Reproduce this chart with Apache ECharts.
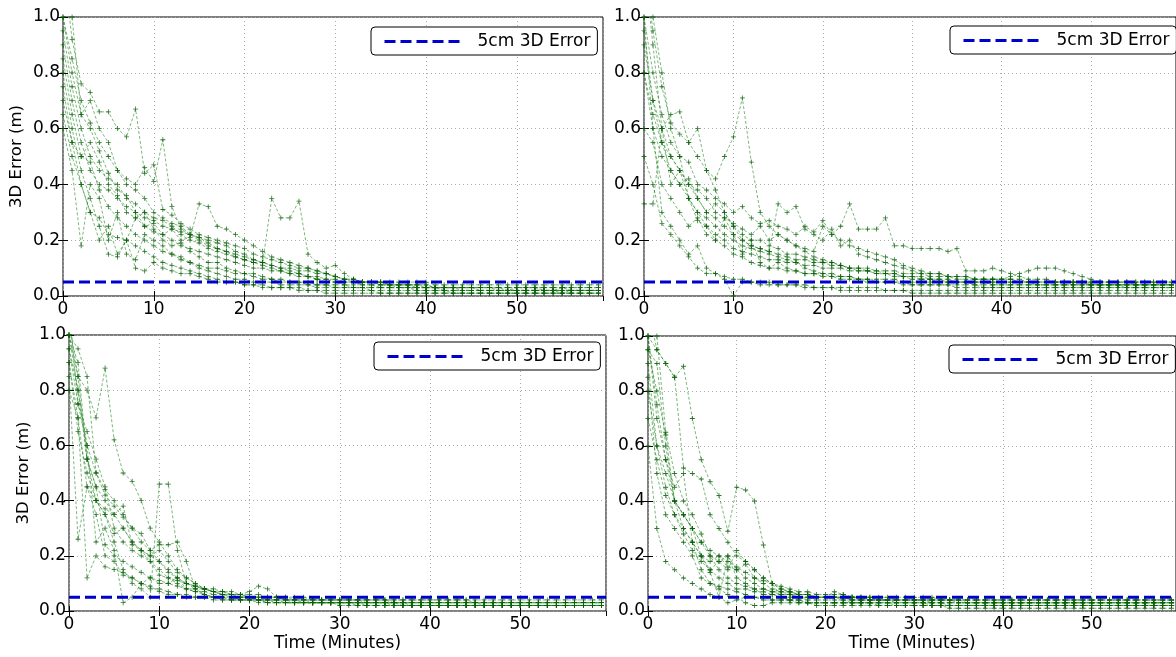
<!DOCTYPE html>
<html>
<head>
<meta charset="utf-8">
<script src="https://cdn.jsdelivr.net/npm/echarts@6/dist/echarts.min.js"></script>
<style>
html,body{margin:0;padding:0;background:#fff;}
#chart{width:1176px;height:657px;}
</style>
</head>
<body>
<div id="chart"></div>
<script>
// Time stamps (minutes) shared by every run
const minutes = [0,1,2,3,4,5,6,7,8,9,10,11,12,13,14,15,16,17,18,19,20,21,22,23,24,25,26,27,28,29,30,31,32,33,34,35,36,37,38,39,40,41,42,43,44,45,46,47,48,49,50,51,52,53,54,55,56,57,58,59];
const thresholdM = 0.05;
const yTicks = [0, 0.2, 0.4, 0.6, 0.8, 1.0];
const xTicks = [0, 10, 20, 30, 40, 50];

// 3D error of each run, in centimetres, one value per minute
const runsTopLeft = [
 [120,92,76,73,66,66,60,57,67,44,47,31,29,26,24,22,21,20,19,18,17,15,14,13,12,11,10,10,9,8,7,6,6,5,5,5,4,4,4,4,3,3,3,3,3,3,3,3,3,2,3,3,3,2,2,3,2,2,2,2],
 [100,85,70,62,55,50,45,42,40,46,41,56,32,24,22,21,19,17,16,14,13,12,11,10,9,8,7,7,6,5,5,4,4,4,4,3,3,3,3,3,3,3,2,2,2,2,2,2,2,2,2,2,2,2,2,1,2,2,2,2],
 [90,70,55,45,40,38,35,32,30,28,27,25,24,23,22,21,20,19,18,16,15,13,12,35,28,28,34,15,12,10,11,8,6,5,5,5,4,4,4,4,4,3,3,3,3,3,3,3,3,3,3,3,3,3,3,3,3,3,3,3],
 [85,65,50,55,48,40,36,30,28,25,26,22,24,20,21,33,32,25,24,22,20,18,16,14,13,12,11,10,9,8,7,6,5,5,5,4,4,4,4,3,3,3,3,3,3,3,3,3,2,2,2,2,2,2,2,2,2,2,2,2],
 [60,45,18,40,35,20,30,15,13,22,20,18,15,14,12,11,10,10,9,8,8,7,6,6,5,5,5,4,4,4,3,3,3,3,2,2,2,2,2,2,2,2,2,1,1,1,1,1,1,1,1,1,1,1,1,1,1,1,1,1],
 [110,100,65,70,60,55,45,40,38,35,30,28,26,25,22,20,18,17,16,15,14,13,12,11,10,9,8,7,6,6,5,5,5,4,4,4,4,3,3,3,3,3,3,3,3,3,2,2,2,2,2,2,2,2,2,2,2,2,2,2],
 [75,55,40,30,20,25,15,20,28,30,24,20,18,19,16,14,12,12,10,9,8,8,7,6,6,5,5,5,4,4,4,4,3,3,3,3,3,3,3,2,2,2,2,2,2,2,2,2,2,2,2,2,2,2,2,2,2,2,2,2],
 [95,75,60,50,45,42,40,35,33,30,28,27,25,22,20,19,17,16,15,14,13,12,12,11,10,10,9,9,8,8,7,6,6,5,5,5,5,5,5,5,5,4,4,4,4,4,4,4,4,4,4,4,4,4,4,4,4,4,4,4],
 [80,60,45,35,25,15,14,20,10,9,12,10,9,8,8,7,6,5,5,5,4,4,4,3,3,3,3,2,2,2,2,2,2,2,2,1,1,1,1,1,1,1,1,1,1,1,1,1,1,1,1,1,1,1,1,1,1,1,1,1],
 [100,80,65,60,52,44,38,36,30,25,23,22,20,18,17,16,15,14,13,12,11,10,10,9,9,8,8,7,7,6,6,5,5,5,5,4,4,4,4,4,4,3,3,3,3,3,3,3,3,3,3,3,3,3,3,3,3,3,3,3],
 [70,55,50,48,38,32,28,25,22,20,18,16,15,13,12,10,9,8,7,6,6,5,5,5,4,4,4,4,3,3,3,3,3,3,3,3,3,3,3,3,3,3,3,3,2,2,2,2,2,2,2,2,2,2,2,2,2,2,2,2],
 [65,50,40,30,28,22,21,20,18,16,14,12,11,10,9,8,7,6,5,5,4,4,3,3,3,3,2,2,2,1,1,1,1,1,1,1,1,1,1,1,1,1,1,1,1,1,1,1,1,1,1,1,1,1,1,1,1,1,1,1]
];
const runsTopRight = [
 [120,95,75,62,58,55,50,45,42,50,57,71,48,30,25,22,20,18,16,14,13,12,11,10,9,9,8,8,7,7,6,6,6,5,5,5,5,5,5,5,5,5,5,5,4,4,4,4,4,4,4,4,4,4,4,4,4,4,4,4],
 [100,80,65,55,50,48,40,38,35,33,30,32,28,26,27,25,24,22,25,23,27,22,25,33,24,24,24,28,18,18,17,17,17,17,16,17,9,9,9,10,9,8,7,6,6,6,5,5,5,5,4,4,4,4,4,4,4,4,4,4],
 [95,70,60,50,45,40,35,30,28,25,22,20,18,17,16,15,14,13,13,12,12,11,11,10,10,10,9,9,9,8,8,8,7,7,7,6,6,6,6,6,6,7,8,9,10,10,10,9,8,7,6,5,5,5,5,4,4,4,4,4],
 [80,60,50,45,40,42,35,30,33,30,25,20,18,17,16,33,30,32,24,22,20,24,18,20,15,14,13,12,11,10,9,8,8,8,7,7,7,6,6,6,6,6,5,5,5,5,5,5,5,5,4,4,4,4,4,4,4,4,4,4],
 [33,33,60,65,66,55,60,45,38,30,25,22,20,20,18,17,15,15,14,13,12,12,11,10,10,9,9,8,8,7,7,6,6,6,5,5,5,5,5,4,4,4,4,4,4,4,4,4,4,4,4,4,4,4,3,3,3,3,3,3],
 [90,70,55,45,40,35,30,28,25,22,20,18,17,16,15,14,13,12,10,9,8,8,7,7,6,6,5,5,5,5,4,4,4,4,4,4,4,4,3,3,3,3,3,3,3,3,3,3,3,3,3,3,3,3,3,3,3,3,3,3],
 [100,60,30,25,20,15,18,10,8,7,6,6,5,5,5,4,4,4,4,3,3,3,3,3,3,3,3,2,2,2,2,2,2,2,2,2,2,2,2,2,2,2,2,2,2,2,2,2,2,2,2,2,2,2,2,2,2,2,2,2],
 [120,90,60,40,45,35,30,25,20,28,22,15,20,12,10,12,10,9,8,8,7,7,6,6,6,5,5,5,5,4,4,4,4,4,4,3,3,3,3,3,3,3,3,3,3,3,3,3,3,3,3,3,3,3,3,3,3,3,3,3],
 [80,65,55,50,45,40,38,35,30,28,26,24,22,25,20,22,20,18,17,16,25,22,20,18,17,16,15,14,13,11,10,9,8,8,7,7,7,6,6,6,6,6,6,5,5,5,5,5,5,5,5,5,5,5,5,5,5,5,5,5],
 [60,55,40,35,30,25,28,22,20,18,15,14,12,11,10,10,9,9,8,8,8,7,7,7,6,6,6,6,6,5,5,5,5,5,5,5,5,4,4,4,4,4,4,4,4,4,4,4,4,4,4,4,4,4,4,4,4,4,4,4],
 [110,100,80,60,50,35,27,25,22,20,17,16,15,14,13,13,12,12,11,11,10,10,10,9,9,9,8,8,8,7,7,7,6,6,6,5,5,5,5,5,5,5,5,5,5,5,5,5,5,5,5,5,5,5,5,5,5,5,5,5],
 [50,40,26,22,18,14,10,8,8,6,0,5,5,4,4,4,4,4,3,3,3,3,2,2,2,2,2,2,2,2,1,1,1,1,1,1,1,1,1,1,1,1,1,1,1,1,1,1,1,1,1,1,1,1,1,1,1,1,1,1]
];
const runsBottomLeft = [
 [100,85,80,70,88,62,50,47,40,30,25,20,15,12,10,8,7,6,6,5,5,4,4,4,4,3,3,3,3,3,3,3,3,2,2,2,2,2,2,2,2,2,2,2,2,2,2,2,2,2,2,2,2,2,2,2,2,2,2,2],
 [90,70,45,40,35,25,15,10,8,5,46,46,22,10,8,6,5,5,4,4,4,4,3,3,3,3,3,3,3,3,3,3,3,3,3,3,2,2,2,2,2,2,2,2,2,2,2,2,2,2,2,2,2,2,2,2,2,2,2,2],
 [95,80,60,50,42,38,34,30,25,22,24,24,25,18,8,6,5,5,5,4,4,4,4,4,3,3,3,3,3,3,3,3,3,3,3,3,3,2,2,2,2,2,2,2,2,2,2,2,2,2,2,2,2,2,2,2,2,2,2,2],
 [100,90,55,45,40,35,30,25,22,20,18,15,12,10,9,8,7,6,6,6,7,9,8,5,5,4,4,4,4,4,4,4,4,3,3,3,3,3,3,3,3,3,3,3,3,3,3,3,3,3,3,3,3,3,3,3,3,3,3,3],
 [85,26,45,35,20,18,13,12,10,8,8,7,6,6,5,5,5,4,4,4,4,3,3,3,3,3,3,3,3,3,2,2,2,2,2,2,2,2,2,2,2,2,2,2,2,2,2,2,2,2,2,2,2,2,2,2,2,2,2,2],
 [100,95,85,50,44,40,35,30,28,22,18,14,12,10,9,8,7,6,5,5,5,4,4,4,4,4,4,3,3,3,3,3,3,3,3,3,3,3,3,3,3,3,3,3,3,3,3,3,3,3,3,3,3,3,3,3,3,3,3,3],
 [110,75,60,25,30,22,3,5,10,12,11,10,12,8,7,6,5,5,4,4,4,4,3,3,3,3,3,3,3,3,3,3,2,2,2,2,2,2,2,2,2,2,2,2,2,2,2,2,2,2,2,2,2,2,2,2,2,2,2,2],
 [100,80,55,40,35,28,30,25,22,20,22,18,14,12,10,8,7,7,6,6,5,5,5,5,4,4,4,4,4,4,4,4,4,4,4,4,3,3,3,3,3,3,3,3,3,3,3,3,3,3,3,3,3,3,3,3,3,3,3,3],
 [90,65,50,40,37,35,38,24,22,18,15,12,10,8,7,7,6,6,5,5,5,4,4,4,4,4,3,3,3,3,3,3,3,3,3,3,3,3,3,3,3,3,3,3,3,3,2,2,2,2,2,2,2,2,2,2,2,2,2,2],
 [80,70,12,20,16,15,14,12,10,9,7,6,6,5,5,5,4,4,4,4,4,4,4,3,3,3,3,3,3,3,3,3,3,3,3,3,3,3,2,2,2,2,2,2,2,2,2,2,2,2,2,2,2,2,2,2,2,2,2,2],
 [95,75,65,55,45,30,25,22,20,18,13,12,11,10,9,8,8,7,7,6,6,6,5,5,5,5,5,4,4,4,4,4,4,4,4,4,4,4,4,4,4,4,4,4,4,3,3,3,3,3,3,3,3,3,3,3,3,3,3,3],
 [105,85,55,45,24,20,18,16,14,12,10,10,9,8,8,8,7,7,6,6,5,5,5,5,4,4,4,4,4,4,4,4,4,4,4,4,4,4,4,4,4,4,4,4,4,4,4,4,4,4,4,4,4,4,4,4,4,4,4,4]
];
const runsBottomRight = [
 [110,95,90,85,89,70,55,47,42,29,45,44,40,24,10,5,4,4,3,3,3,3,3,3,3,3,2,2,2,2,2,2,2,2,2,2,2,2,2,2,2,2,2,2,2,2,2,2,2,2,2,2,2,2,2,2,2,2,2,2],
 [100,95,90,85,52,50,48,35,30,25,20,18,15,12,10,8,7,6,6,5,5,5,4,4,4,4,4,4,3,3,3,3,3,3,3,3,3,3,3,3,3,3,3,3,3,3,3,3,3,3,3,3,3,3,3,3,3,3,3,3],
 [80,60,50,40,35,30,25,20,18,15,22,18,15,12,10,8,7,6,6,5,5,5,5,4,4,4,4,4,4,4,4,4,3,3,3,3,3,3,3,3,3,3,3,3,3,3,3,3,3,3,3,3,3,3,3,3,3,3,3,3],
 [60,30,18,15,12,10,8,6,5,20,12,10,8,6,6,5,5,5,4,4,4,4,4,3,3,3,3,3,3,3,3,3,3,3,2,2,2,2,2,2,2,2,2,2,2,2,2,2,2,2,2,2,2,2,2,2,2,2,2,2],
 [90,60,45,35,28,22,18,15,12,10,8,8,7,7,6,6,6,5,5,5,5,5,5,5,5,4,4,4,4,4,4,4,4,4,4,4,4,4,4,4,4,4,4,4,4,4,4,4,4,4,4,4,4,4,4,4,4,4,4,4],
 [100,70,55,40,30,25,20,15,18,20,15,12,10,8,7,6,6,5,5,5,5,7,6,5,4,4,4,4,4,4,4,4,4,4,4,3,3,3,3,3,3,3,3,3,3,3,3,3,3,3,3,3,3,3,3,3,3,3,3,3],
 [95,80,64,40,35,30,20,14,5,3,4,5,5,4,4,4,4,3,3,3,3,3,3,3,3,3,3,3,2,2,2,2,2,2,2,2,2,2,2,2,2,2,2,2,2,2,2,2,2,2,2,2,2,2,2,2,2,2,2,2],
 [110,100,65,50,40,35,28,20,15,12,10,9,8,8,7,7,6,6,6,5,5,5,5,5,5,5,4,4,4,4,4,4,4,4,4,4,4,4,4,4,4,4,4,4,4,4,4,4,4,4,4,4,4,4,4,4,4,4,4,4],
 [85,50,35,30,25,20,12,10,9,8,7,6,5,5,4,4,4,4,3,3,3,3,3,3,3,3,3,3,3,3,3,3,2,2,2,2,2,2,2,2,2,2,2,2,2,2,2,2,2,2,2,2,2,2,2,2,2,2,2,2],
 [70,55,42,35,30,25,20,18,20,16,15,17,12,10,8,7,7,6,6,5,5,5,5,4,4,4,4,4,4,4,4,4,4,4,4,4,3,3,3,3,3,3,3,3,3,3,3,3,3,3,3,3,3,3,3,3,3,3,3,3],
 [100,75,55,45,50,25,15,10,8,6,5,3,2,2,3,3,3,3,3,2,2,2,2,2,2,2,2,2,2,2,2,2,2,2,1,1,1,1,1,1,1,1,1,1,1,1,1,1,1,1,1,1,1,1,1,1,1,1,1,1],
 [95,90,60,40,35,30,25,22,20,18,16,14,12,11,10,9,8,7,7,6,6,6,6,5,5,5,5,5,5,5,5,5,5,4,4,4,4,4,4,4,4,4,4,4,4,4,4,4,4,4,4,4,4,4,4,4,4,4,4,4]
];

const FONT = 'DejaVu Sans';
const X_MAX = 59.5;
const LEGEND_NAME = '5cm 3D Error';
const plusPath = 'path://M0,4.2H10V5.8H0Z M4.2,0H5.8V10H4.2Z';
const emptyPath = 'path://M0,0L0.001,0L0,0.001Z';

const panels = [
  {runs: runsTopLeft,     grid:{left:63,  top:17,  width:540, height:279}, yName:true,  xName:false, yGap:38, legend:{left:371, top:27}},
  {runs: runsTopRight,    grid:{left:644, top:17,  width:538, height:279}, yName:false, xName:false, yGap:38, legend:{left:950, top:26}},
  {runs: runsBottomLeft,  grid:{left:69,  top:335, width:537, height:276}, yName:true,  xName:true,  yGap:37, legend:{left:374, top:342}},
  {runs: runsBottomRight, grid:{left:648, top:336, width:532, height:275}, yName:false, xName:true,  yGap:37, legend:{left:949, top:345}}
];

const option = {animation:false, backgroundColor:'#fff', grid:[], xAxis:[], yAxis:[], series:[], legend:[]};

panels.forEach((p, i) => {
  option.grid.push(Object.assign({show:true, borderColor:'#000', borderWidth:1, containLabel:false, backgroundColor:'transparent'}, p.grid));
  const gi = i;
  option.xAxis.push({
    type:'value', gridIndex:gi, position:'bottom', min:0, max:X_MAX, interval:10,
    name: p.xName ? 'Time (Minutes)' : '', nameLocation:'middle', nameGap:24,
    nameTextStyle:{fontFamily:FONT, fontSize:17, color:'#000'},
    axisLine:{show:false},
    axisTick:{show:true, inside:true, length:5, lineStyle:{color:'#000'}},
    axisLabel:{show:true, fontFamily:FONT, fontSize:17, color:'#000', margin:5, showMaxLabel:false,
      formatter: v => xTicks.includes(v) ? String(v) : ''},
    splitLine:{show:true, lineStyle:{color:'#aaaaaa', type:[1,3], width:1}}
  });
  option.xAxis.push({
    type:'value', gridIndex:gi, position:'top', min:0, max:X_MAX, interval:10,
    axisLine:{show:false}, axisTick:{show:true, inside:true, length:5, lineStyle:{color:'#000'}},
    axisLabel:{show:false}, splitLine:{show:false}
  });
  option.yAxis.push({
    type:'value', gridIndex:gi, position:'left', min:0, max:1, interval:0.2,
    name: p.yName ? '3D Error (m)' : '', nameLocation:'middle', nameGap:p.yGap, nameRotate:90,
    nameTextStyle:{fontFamily:FONT, fontSize:16.5, color:'#000'},
    axisLine:{show:false},
    axisTick:{show:true, inside:true, length:5, lineStyle:{color:'#000'}},
    axisLabel:{show:true, fontFamily:FONT, fontSize:17, color:'#000', margin:3,
      formatter: v => yTicks.some(t => Math.abs(t - v) < 1e-9) ? v.toFixed(1) : ''},
    splitLine:{show:true, lineStyle:{color:'#aaaaaa', type:[1,3], width:1}}
  });
  option.yAxis.push({
    type:'value', gridIndex:gi, position:'right', min:0, max:1, interval:0.2,
    axisLine:{show:false}, axisTick:{show:true, inside:true, length:5, lineStyle:{color:'#000'}},
    axisLabel:{show:false}, splitLine:{show:false}
  });

  const xa = 2*i, ya = 2*i;
  p.runs.forEach((run, k) => {
    option.series.push({
      type:'line', name:'run ' + (i+1) + '-' + (k+1), xAxisIndex:xa, yAxisIndex:ya,
      data: run.map((cm, j) => [minutes[j], cm/100]),
      symbol: plusPath, symbolSize:5, showSymbol:true,
      itemStyle:{color:'rgba(10,95,10,0.85)'},
      lineStyle:{color:'rgba(20,125,20,0.7)', width:0.8, type:[3,2]},
      emphasis:{disabled:true}, clip:true, z:2
    });
  });
  option.series.push({
    type:'line', name:LEGEND_NAME, xAxisIndex:xa, yAxisIndex:ya,
    data:[[0, thresholdM],[X_MAX, thresholdM]],
    symbol:emptyPath, showSymbol:false, lineStyle:{color:'#0000cc', width:3, type:[11,5]},
    itemStyle:{color:'#0000cc'}, z:5, clip:true
  });
  option.legend.push({
    data:[LEGEND_NAME], left:p.legend.left, top:p.legend.top, orient:'horizontal',
    backgroundColor:'#fff', borderColor:'#000', borderWidth:1, borderRadius:4,
    padding:[6,7,5,12], itemWidth:75, itemHeight:12, selectedMode:false,
    itemStyle:{color:'transparent', borderWidth:0, opacity:0},
    lineStyle:{color:'#0000cc', width:3, type:[11,5]},
    textStyle:{fontFamily:FONT, fontSize:17, color:'#000', padding:[0,0,0,13]},
    z:10
  });
});

const chart = echarts.init(document.getElementById('chart'), null, {renderer:'canvas'});
chart.setOption(option);
</script>
</body>
</html>
